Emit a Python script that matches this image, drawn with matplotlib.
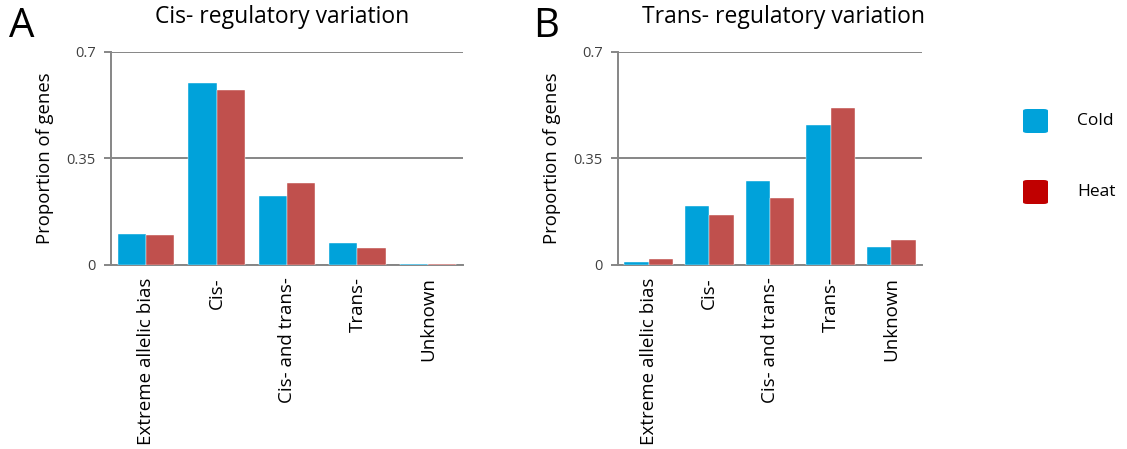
import matplotlib
matplotlib.use("Agg")
import matplotlib.pyplot as plt
from matplotlib.patches import FancyBboxPatch
import numpy as np

plt.rcParams['font.family'] = ['Open Sans', 'DejaVu Sans']

categories = ["Extreme allelic bias", "Cis-", "Cis- and trans-", "Trans-", "Unknown"]
cis_cold = [0.102, 0.596, 0.226, 0.071, 0.004]
cis_heat = [0.098, 0.574, 0.268, 0.056, 0.003]
trans_cold = [0.009, 0.192, 0.277, 0.459, 0.058]
trans_heat = [0.019, 0.164, 0.220, 0.516, 0.081]
yticks = [0, 0.35, 0.7]
ytick_labels = ["0", "0.35", "0.7"]

BLUE = "#00A2DA"
RED = "#C0504D"
LEGEND_RED = "#C00000"
GRID = "#868686"

fig = plt.figure(figsize=(11.27, 4.49), dpi=100)
axA = fig.add_axes([0.0985, 0.4098, 0.3123, 0.4751])
axB = fig.add_axes([0.5486, 0.4098, 0.2692, 0.4751])


def draw_panel(ax, cold, heat, title, letter, letter_x, title_x):
    x = np.arange(len(categories))
    w = 0.4
    ax.bar(x - w / 2, cold, w, color=BLUE, edgecolor="white", linewidth=0.3, zorder=3)
    ax.bar(x + w / 2, heat, w, color=RED, edgecolor="white", linewidth=0.3, zorder=3)
    ax.set_xlim(-0.5, len(categories) - 0.5)
    ax.set_ylim(0, 0.7)
    ax.set_yticks(yticks)
    ax.set_yticklabels(ytick_labels, fontsize=10.5, color="#404040")
    ax.yaxis.grid(True, color=GRID, linewidth=1.4, zorder=1)
    ax.set_axisbelow(True)
    ax.set_xticks(x)
    ax.set_xticklabels(categories, rotation=90, fontsize=13.5)
    ax.tick_params(axis="x", length=0, pad=9)
    ax.tick_params(axis="y", length=5, width=1.4, color=GRID, pad=6)
    for s in ("top", "right"):
        ax.spines[s].set_visible(False)
    for s in ("left", "bottom"):
        ax.spines[s].set_color(GRID)
        ax.spines[s].set_linewidth(1.4)
    ax.set_ylabel("Proportion of genes", fontsize=13.3, labelpad=9)
    fig.text(title_x, 0.962, title, fontsize=16.5, ha="center", va="center")
    fig.text(letter_x, 0.94, letter, fontsize=29, ha="left", va="center")


draw_panel(axA, cis_cold, cis_heat, "Cis- regulatory variation", "A", 0.008, 0.25)
draw_panel(axB, trans_cold, trans_heat, "Trans- regulatory variation", "B", 0.473, 0.695)

# legend swatches with rounded corners
for label, color, yc in (("Cold", BLUE, 121), ("Heat", LEGEND_RED, 192)):
    x0, y0 = 1023 / 1127, 1 - (yc + 12) / 449
    patch = FancyBboxPatch((x0, y0), 25 / 1127, 24 / 449,
                           boxstyle="round,pad=0,rounding_size=0.004",
                           transform=fig.transFigure, facecolor=color,
                           edgecolor="none")
    fig.patches.append(patch)
    fig.text(1077 / 1127, 1 - yc / 449, label, fontsize=12.5, ha="left", va="center")

fig.savefig("out.png", dpi=100)
